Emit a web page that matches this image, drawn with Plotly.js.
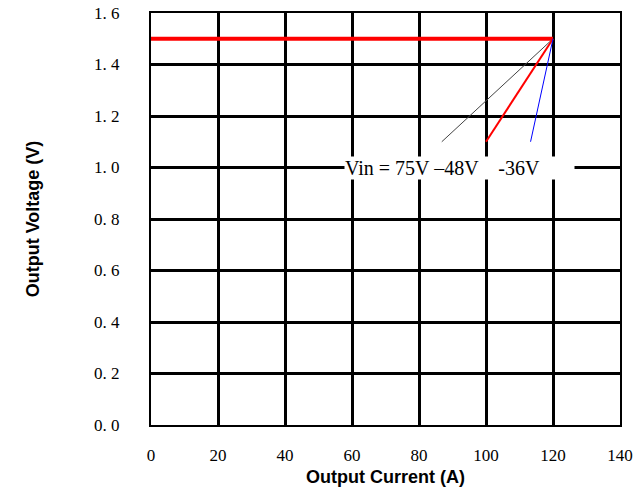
<!DOCTYPE html>
<html><head><script src="https://cdn.plot.ly/plotly-3.0.1.min.js"></script></head>
<body style="margin:0">
<div id="plot" style="width:642px;height:497px"></div>
<script>
var flatX = [0, 120];
var flatY = [1.5, 1.5];
var vin75X = [120, 86.8], vin75Y = [1.5, 1.1];
var vin48X = [120, 100], vin48Y = [1.5, 1.1];
var vin36X = [120, 113.3], vin36Y = [1.5, 1.1];
var yTickVals = [0, 0.2, 0.4, 0.6, 0.8, 1.0, 1.2, 1.4, 1.6];
var yTickText = ['0. 0', '0. 2', '0. 4', '0. 6', '0. 8', '1. 0', '1. 2', '1. 4', '1. 6'];

var data = [
  {x: flatX, y: flatY, mode: 'lines', line: {color: '#ff0000', width: 4}},
  {x: vin75X, y: vin75Y, mode: 'lines', line: {color: '#444', width: 1}},
  {x: vin48X, y: vin48Y, mode: 'lines', line: {color: '#ff0000', width: 2}},
  {x: vin36X, y: vin36Y, mode: 'lines', line: {color: '#0000ff', width: 1}}
];
var serif = {family: 'Liberation Serif, serif', size: 17, color: '#000'};
var bold = {family: 'Liberation Sans, Arial', size: 18, weight: 'bold', color: '#000'};
var layout = {
  width: 642, height: 497, showlegend: false,
  margin: {l: 151, r: 22, t: 13, b: 72},
  plot_bgcolor: '#fff', paper_bgcolor: '#fff',
  xaxis: {range: [0, 140], dtick: 20, showgrid: true, gridcolor: '#000', gridwidth: 2.5,
    zeroline: false, showline: true, mirror: true, linecolor: '#000', linewidth: 2,
    tickfont: serif, ticks: '', ticklabelstandoff: 14,
    title: {text: 'Output Current (A)', font: bold, standoff: 6}},
  yaxis: {range: [0, 1.6], tickvals: yTickVals, ticktext: yTickText, showgrid: true, gridcolor: '#000', gridwidth: 2.5,
    zeroline: false, showline: true, mirror: true, linecolor: '#000', linewidth: 2,
    tickfont: serif, ticks: '', ticklabelstandoff: 26,
    title: {text: 'Output Voltage (V)', font: bold, standoff: 50}},
  annotations: [{x: 92, y: 1.0, xref: 'x', yref: 'y', showarrow: false,
    text: 'Vin = 75V \u201348V    -36V       ', bgcolor: '#fff', borderpad: 0,
    font: {family: 'Liberation Serif, serif', size: 20, color: '#000'}}]
};
Plotly.newPlot('plot', data, layout, {displayModeBar: false});
</script>
</body></html>
